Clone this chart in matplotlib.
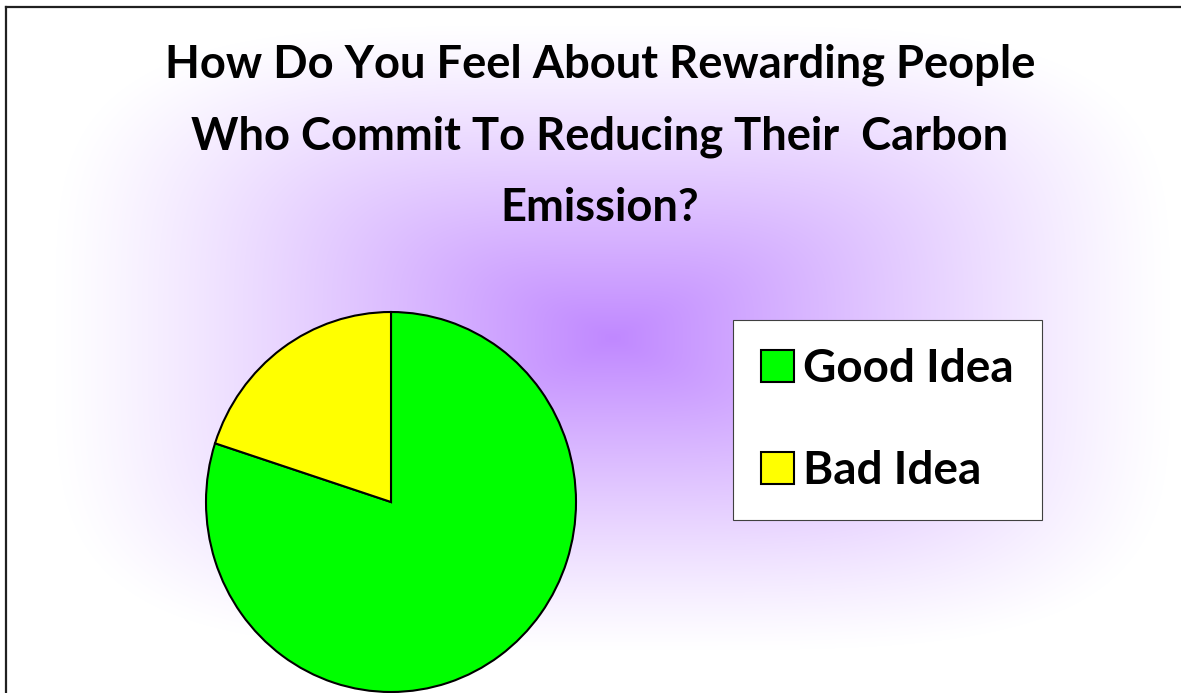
import numpy as np
import matplotlib
matplotlib.use("Agg")
import matplotlib.pyplot as plt
from matplotlib.lines import Line2D

# Data
labels = ["Good Idea", "Bad Idea"]
shares = [80, 20]
slice_colors = ["#00FF00", "#FFFF00"]
title_lines = [
    "How Do You Feel About Rewarding People",
    "Who Commit To Reducing Their  Carbon",
    "Emission?",
]

W, H = 1181, 693
fig = plt.figure(figsize=(W / 100, H / 100), dpi=100)
fig.patch.set_facecolor("white")

# soft rectangular purple gradient behind everything
yy, xx = np.mgrid[0:H, 0:W]
x0, x1, y0, y1 = 55, 1170, 25, 650
cx, cy = (x0 + x1) / 2, (y0 + y1) / 2
u = np.abs(xx - cx) / ((x1 - x0) / 2)
v = np.abs(yy - cy) / ((y1 - y0) / 2)
t = (u ** 4 + v ** 4) ** 0.25
w = (1 - np.clip(t, 0, 1)) ** 1.15
w = w[..., None]
centre = np.array([192, 136, 255]) / 255
white = np.array([1.0, 1.0, 1.0])
bg = white * (1 - w) + centre * w
bg_ax = fig.add_axes([0, 0, 1, 1])
bg_ax.imshow(bg, aspect="auto", extent=(0, W, H, 0))
bg_ax.set_axis_off()

# Outer border (left and top only visible in the crop)
fig.add_artist(Line2D([6 / W, 6 / W], [0, 1 - 7 / H], color="#202020", lw=1.6))
fig.add_artist(Line2D([6 / W, 1], [1 - 7 / H, 1 - 7 / H], color="#202020", lw=1.6))

# Title, three lines
baselines = [78, 149.5, 221]
for line, yb in zip(title_lines, baselines):
    fig.text(600 / W, 1 - yb / H, line, ha="center", va="baseline",
             fontsize=32.6, fontweight="bold", family="Lato", color="black")

# Pie
ax = fig.add_axes([206 / W, 1 / H, 370 / W, 380 / H])
wedges, _ = ax.pie(shares, colors=slice_colors, startangle=90, counterclock=False,
                   wedgeprops=dict(edgecolor="black", linewidth=1.5))
ax.set_aspect("auto")
ax.set_xlim(-1, 1)
ax.set_ylim(-1, 1)

leg = fig.legend(wedges, labels, loc="upper left",
                 bbox_to_anchor=(733 / W, 1 - 320 / H),
                 prop=dict(family="Lato", weight="bold", size=33),
                 handlelength=0.7, handleheight=0.7, handletextpad=0.2,
                 labelspacing=1.3, borderpad=0.62, borderaxespad=0,
                 fancybox=False, framealpha=1)
leg.get_frame().set_edgecolor("#404040")
leg.get_frame().set_linewidth(0.8)

fig.savefig("out.png", dpi=100)
